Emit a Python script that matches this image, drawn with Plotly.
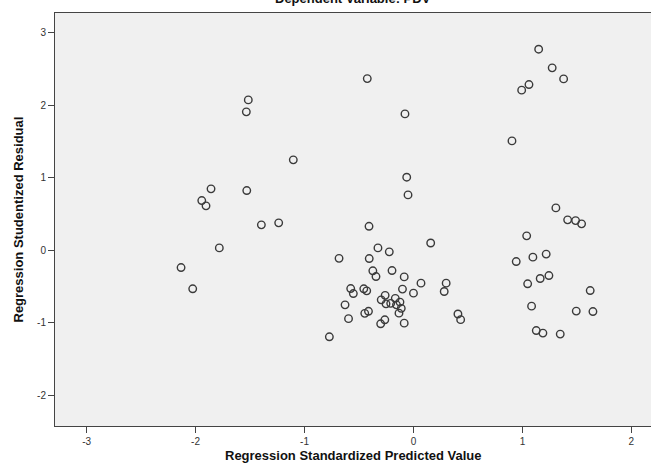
import plotly.graph_objects as go

# Regression Standardized Predicted Value
pred = [
    -2.133, -2.026, -1.943, -1.904, -1.858, -1.782, -1.516, -1.534, -1.530, -1.396,
    -1.237, -1.103, -0.424, -0.078, -0.062, -0.050,
    -0.408, 0.158, -0.326, -0.222, -0.683, -0.406, -0.373, -0.197, -0.344, -0.085,
    0.069, 0.300, 0.282, -0.576, -0.552, -0.456, -0.429, -0.101, 0.000, -0.260,
    -0.296, -0.167, -0.124, -0.252, -0.209, -0.156, -0.112, -0.133, -0.628, -0.413,
    -0.447, -0.596, -0.263, -0.301, -0.085, 0.408, 0.433, -0.772,
    1.149, 1.273, 1.378, 1.060, 0.993, 0.904, 1.307, 1.415, 1.488, 1.543,
    1.039, 1.218, 1.096, 0.943, 1.243, 1.163, 1.048, 1.622, 1.084, 1.494,
    1.647, 1.127, 1.188, 1.347,
]
# Regression Studentized Residual
resid = [
    -0.237, -0.530, 0.686, 0.613, 0.847, 0.034, 2.073, 1.908, 0.824, 0.351,
    0.379, 1.247, 2.366, 1.880, 1.008, 0.764,
    0.331, 0.101, 0.034, -0.021, -0.110, -0.113, -0.282, -0.278, -0.361, -0.366,
    -0.452, -0.452, -0.567, -0.526, -0.595, -0.530, -0.558, -0.534, -0.590, -0.620,
    -0.682, -0.661, -0.713, -0.737, -0.730, -0.751, -0.799, -0.865, -0.751, -0.840,
    -0.868, -0.941, -0.957, -1.012, -1.003, -0.877, -0.955, -1.191,
    2.771, 2.514, 2.362, 2.284, 2.207, 1.508, 0.585, 0.420, 0.410, 0.365,
    0.200, -0.052, -0.094, -0.154, -0.347, -0.388, -0.461, -0.554, -0.769, -0.837,
    -0.843, -1.105, -1.140, -1.154,
]
x_ticks = [-3, -2, -1, 0, 1, 2]
y_ticks = [-2, -1, 0, 1, 2, 3]

title_text = "Dependent Variable: PDV"
x_title = "Regression Standardized Predicted Value"
y_title = "Regression Studentized Residual"

fig = go.Figure()
fig.add_trace(go.Scatter(
    x=pred, y=resid, mode="markers",
    marker=dict(symbol="circle-open", size=7.5, color="#3a3a3a", line=dict(width=1.4)),
    showlegend=False, cliponaxis=False,
))

axis_common = dict(
    showgrid=False, zeroline=False, showline=True, mirror=True,
    linecolor="#444444", linewidth=1, ticks="outside", ticklen=6,
    tickcolor="#444444", tickwidth=1,
    tickfont=dict(family="Liberation Sans, Arial, sans-serif", size=10, color="#333333"),
)

fig.update_layout(
    width=651, height=466,
    margin=dict(l=55, r=0, t=13, b=40),
    paper_bgcolor="white", plot_bgcolor="#F0F0F0",
    xaxis=dict(range=[-3.29, 2.18], tickvals=x_ticks, ticktext=[str(v) for v in x_ticks], **axis_common),
    yaxis=dict(range=[-2.42, 3.27], tickvals=y_ticks, ticktext=[str(v) for v in y_ticks], **axis_common),
    font=dict(family="Liberation Sans, Arial, sans-serif", color="#111111"),
    annotations=[
        dict(text="<b>" + title_text + "</b>", xref="paper", yref="paper", x=0.5, y=1,
             xanchor="center", yanchor="bottom", yshift=5, showarrow=False,
             font=dict(size=13, color="#111111")),
        dict(text="<b>" + x_title + "</b>", xref="paper", yref="paper", x=0.5, y=0,
             xanchor="center", yanchor="middle", yshift=-29, showarrow=False,
             font=dict(size=13, color="#111111")),
        dict(text="<b>" + y_title + "</b>", xref="paper", yref="paper", x=0, y=0.5,
             xanchor="center", yanchor="middle", xshift=-37, textangle=-90, showarrow=False,
             font=dict(size=13, color="#111111")),
    ],
)

fig.write_html(
    "out.html",
    config={"displayModeBar": False},
    post_script="document.body.style.margin='0';document.body.style.overflow='hidden';",
)
